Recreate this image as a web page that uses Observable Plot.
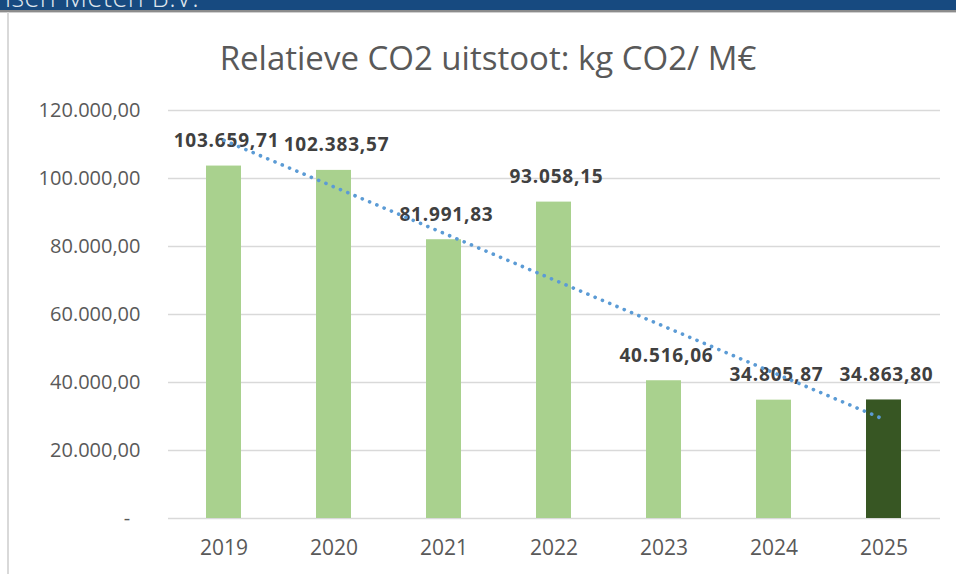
<!DOCTYPE html>
<html>
<head>
<meta charset="utf-8">
<script src="https://cdn.jsdelivr.net/npm/d3@7"></script>
<script src="https://cdn.jsdelivr.net/npm/@observablehq/plot@0.6"></script>
<style>
  html, body { margin: 0; padding: 0; background: #fff; }
  body { width: 956px; height: 574px; position: relative; overflow: hidden; font-family: "Open Sans", sans-serif; }
  #banner { position: absolute; left: 0; top: 0; width: 956px; height: 10px; background: #174a80; overflow: hidden; }
  #banner span { position: absolute; left: -27px; top: -22px; font-size: 27px; font-weight: 300; color: #dfe6ee; white-space: nowrap; letter-spacing: 0.5px; }
  #stripe { position: absolute; left: 0; top: 10px; width: 956px; height: 2px; background: #8c8c8c; }
  #stripe2 { position: absolute; left: 0; top: 12px; width: 956px; height: 1px; background: #d0d0d0; }
  #leftline { position: absolute; left: 7px; top: 12px; width: 2px; height: 562px; background: #d9d9d9; }
  #title { position: absolute; left: 0; top: 12px; width: 976px; height: 80px; text-align: center; font-size: 33px; line-height: 33px; color: #595959; padding-top: 29px; box-sizing: border-box; }
  #chart { position: absolute; left: 0; top: 92px; }
</style>
</head>
<body>
<div id="banner"><span>Jansen Meten B.V.</span></div>
<div id="stripe"></div>
<div id="stripe2"></div>
<div id="leftline"></div>
<div id="title">Relatieve CO2 uitstoot: kg CO2/ M€</div>
<div id="chart"></div>
<script>
const years = ["2019", "2020", "2021", "2022", "2023", "2024", "2025"];
const values = [103659.71, 102383.57, 81991.83, 93058.15, 40516.06, 34805.87, 34863.80];
const yTicks = [0, 20000, 40000, 60000, 80000, 100000, 120000];
const highlightYear = "2025";

const data = years.map((year, i) => ({year, value: values[i]}));

// Linear trendline (least squares over positions 1..n), as in the spreadsheet
const n = values.length;
const xs = values.map((_, i) => i + 1);
const mx = d3.mean(xs), my = d3.mean(values);
const slope = d3.sum(xs.map((x, i) => (x - mx) * (values[i] - my))) / d3.sum(xs.map(x => (x - mx) ** 2));
const intercept = my - slope * mx;
const trend = [
  {year: years[0], value: intercept + slope * 1},
  {year: years[n - 1], value: intercept + slope * n}
];

const nl = d3.formatLocale({decimal: ",", thousands: ".", grouping: [3], currency: ["€", ""]});
const fmt = nl.format(",.2f");

const chart = Plot.plot({
  width: 956,
  height: 482,
  marginLeft: 168,
  marginRight: 16,
  marginTop: 18,
  marginBottom: 56,
  style: {fontFamily: "'Open Sans', sans-serif", background: "transparent", overflow: "visible"},
  x: {domain: years, paddingInner: 0.68, paddingOuter: 0.34, label: null},
  y: {domain: [0, 120000], label: null},
  marks: [
    Plot.gridY(yTicks, {stroke: "#d9d9d9", strokeOpacity: 1, strokeWidth: 1.6}),
    Plot.axisY(yTicks, {
      tickSize: 0, tickPadding: 28, fontSize: 20, fill: "#595959", label: null,
      tickFormat: d => d === 0 ? "-\u00a0\u00a0" : fmt(d)
    }),
    Plot.axisX({tickSize: 0, tickPadding: 22, fontSize: 21, fill: "#595959", label: null}),
    Plot.barY(data, {x: "year", y: "value", fill: d => d.year === highlightYear ? "#375623" : "#a9d18e"}),
    Plot.text(data, {
      x: "year", y: "value", text: d => fmt(d.value), dy: -25, dx: 2.5,
      fontSize: 19, fontWeight: "bold", fill: "#404040"
    }),
    Plot.line(trend, {
      x: "year", y: "value", stroke: "#5b9bd5", strokeWidth: 3.6,
      strokeDasharray: "0.1 7.8", strokeLinecap: "round"
    })
  ]
});
chart.querySelectorAll("g[aria-label='text'] text").forEach(t => { t.style.letterSpacing = "0.8px"; });
document.getElementById("chart").appendChild(chart);
</script>
</body>
</html>
